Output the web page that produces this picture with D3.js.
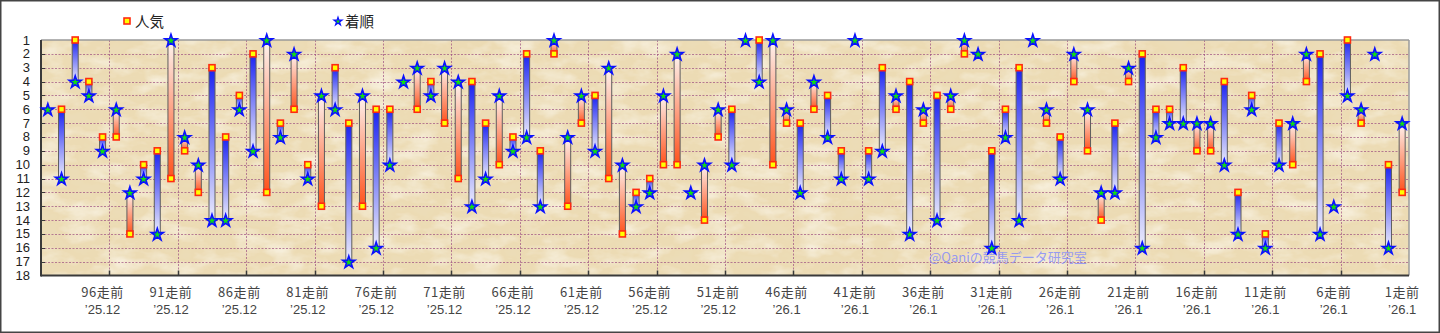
<!DOCTYPE html>
<html>
<head>
<meta charset="utf-8">
<script src="https://cdn.jsdelivr.net/npm/d3@7"></script>
<style>
  html, body { margin: 0; padding: 0; background: #fff; }
  svg { display: block; }
</style>
</head>
<body>
<svg id="chart" width="1440" height="333"></svg>
<script>
// Races ordered from 100走前 (oldest) to 1走前 (latest)
const racesBack = d3.range(100, 0, -1);

// 人気 (popularity rank) per race
const popularity = [
  6, 6, 1, 4, 8, 8, 15, 10, 9, 11,
  9, 12, 3, 8, 5, 2, 12, 7, 6, 10,
  13, 3, 7, 13, 6, 6, 4, 6, 4, 7,
  11, 4, 7, 10, 8, 2, 9, 2, 13, 7,
  5, 11, 15, 12, 11, 10, 10, 12, 14, 8,
  6, 1, 1, 10, 7, 7, 6, 5, 9, 1,
  9, 3, 6, 4, 7, 5, 6, 2, 2, 9,
  6, 3, 1, 7, 8, 4, 9, 14, 7, 4,
  2, 6, 6, 3, 9, 9, 4, 12, 5, 15,
  7, 10, 4, 2, 13, 1, 7, 2, 10, 12
];

// 着順 (finishing position) per race
const finish = [
  6, 11, 4, 5, 9, 6, 12, 11, 15, 1,
  8, 10, 14, 14, 6, 9, 1, 8, 2, 11,
  5, 6, 17, 5, 16, 10, 4, 3, 5, 3,
  4, 13, 11, 5, 9, 8, 13, 1, 8, 5,
  9, 3, 10, 13, 12, 5, 2, 12, 10, 6,
  10, 1, 4, 1, 6, 12, 4, 8, 11, 1,
  11, 9, 5, 15, 6, 14, 5, 1, 2, 16,
  8, 14, 1, 6, 11, 2, 6, 12, 12, 3,
  16, 8, 7, 7, 7, 7, 10, 15, 6, 16,
  10, 7, 2, 15, 13, 5, 6, 2, 16, 7
];

// Labelled races on the x axis and the month shown under each
const tickRaces = [96, 91, 86, 81, 76, 71, 66, 61, 56, 51, 46, 41, 36, 31, 26, 21, 16, 11, 6, 1];
const tickMonths = ["’25.12", "’25.12", "’25.12", "’25.12", "’25.12", "’25.12", "’25.12", "’25.12", "’25.12", "’25.12",
                    "’26.1", "’26.1", "’26.1", "’26.1", "’26.1", "’26.1", "’26.1", "’26.1", "’26.1", "’26.1"];

// Rank axis
const rankTicks = d3.range(1, 19);

const races = racesBack.map((n, i) => ({ n, pop: popularity[i], fin: finish[i] }));

const svg = d3.select("#chart");
const W = 1440, H = 333;
const plot = { left: 41, right: 1409, top: 40, bottom: 275.5 };

const x = d3.scaleBand().domain(racesBack).range([plot.left, plot.right]).padding(0);
const y = d3.scaleLinear().domain([1, 18]).range([plot.top, plot.bottom]);
const cx = n => x(n) + x.bandwidth() / 2;

const defs = svg.append("defs");

// Parchment texture for the plotting area
const paper = defs.append("filter").attr("id", "paper")
  .attr("x", 0).attr("y", 0).attr("width", 1).attr("height", 1);
paper.append("feTurbulence").attr("type", "fractalNoise")
  .attr("baseFrequency", "0.03 0.055").attr("numOctaves", 4).attr("seed", 11).attr("result", "noise");
paper.append("feColorMatrix").attr("in", "noise").attr("type", "matrix")
  .attr("values", "0 0 0 0 0.98  0 0 0 0 0.95  0 0 0 0 0.86  1.4 0 0 0 -0.62").attr("result", "light");
paper.append("feColorMatrix").attr("in", "noise").attr("type", "matrix")
  .attr("values", "0 0 0 0 0.84  0 0 0 0 0.73  0 0 0 0 0.52  -1.3 0 0 0 0.55").attr("result", "dark");
paper.append("feFlood").attr("flood-color", "#ecdbb4").attr("result", "base");
paper.append("feMerge").selectAll("feMergeNode")
  .data(["base", "dark", "light"]).join("feMergeNode").attr("in", d => d);

// Bar gradients: coloured at the 人気 end, pale at the 着順 end
const blue = defs.append("linearGradient").attr("id", "gBlue").attr("x1", 0).attr("y1", 0).attr("x2", 0).attr("y2", 1);
blue.append("stop").attr("offset", "0%").attr("stop-color", "#1a22f2");
blue.append("stop").attr("offset", "100%").attr("stop-color", "#ececfc");
const red = defs.append("linearGradient").attr("id", "gRed").attr("x1", 0).attr("y1", 0).attr("x2", 0).attr("y2", 1);
red.append("stop").attr("offset", "0%").attr("stop-color", "#fdf4f0");
red.append("stop").attr("offset", "100%").attr("stop-color", "#ff521c");

// Outer frame
svg.append("rect").attr("x", 0.75).attr("y", 0.75).attr("width", W - 1.5).attr("height", H - 1.5)
  .attr("fill", "#fff").attr("stroke", "#444").attr("stroke-width", 1.5);

// Plot background
svg.append("rect").attr("x", plot.left).attr("y", plot.top)
  .attr("width", plot.right - plot.left).attr("height", plot.bottom - plot.top)
  .attr("filter", "url(#paper)");

// Horizontal grid
svg.append("g").selectAll("line").data(rankTicks.filter(v => v > 1 && v < 18)).join("line")
  .attr("x1", plot.left).attr("x2", plot.right)
  .attr("y1", d => Math.round(y(d)) + 0.5).attr("y2", d => Math.round(y(d)) + 0.5)
  .attr("stroke", "#9c4f80").attr("stroke-opacity", 0.7).attr("stroke-dasharray", "2,1.5");

// Vertical grid every five races
const vBounds = racesBack.filter((n, i) => i > 0 && i % 5 === 0);
svg.append("g").selectAll("line").data(vBounds).join("line")
  .attr("x1", d => Math.round(x(d)) + 0.5).attr("x2", d => Math.round(x(d)) + 0.5)
  .attr("y1", plot.top).attr("y2", plot.bottom)
  .attr("stroke", "#9c4f80").attr("stroke-opacity", 0.7).attr("stroke-dasharray", "2,1.5");

// Plot frame: light top/right, dark axes left/bottom
svg.append("line").attr("x1", plot.left).attr("x2", plot.right).attr("y1", plot.top).attr("y2", plot.top)
  .attr("stroke", "#9a9a9a").attr("stroke-width", 1.5);
svg.append("line").attr("x1", plot.right).attr("x2", plot.right).attr("y1", plot.top).attr("y2", plot.bottom)
  .attr("stroke", "#9a9a9a").attr("stroke-width", 1.5);
svg.append("line").attr("x1", plot.left).attr("x2", plot.left).attr("y1", plot.top).attr("y2", plot.bottom + 1)
  .attr("stroke", "#3a3a3a").attr("stroke-width", 2);
svg.append("line").attr("x1", plot.left).attr("x2", plot.right).attr("y1", plot.bottom).attr("y2", plot.bottom)
  .attr("stroke", "#3a3a3a").attr("stroke-width", 2);

// Inner ticks
svg.append("g").selectAll("line").data(rankTicks.filter(v => v > 1 && v < 18)).join("line")
  .attr("x1", plot.left).attr("x2", plot.left + 4)
  .attr("y1", d => Math.round(y(d)) + 0.5).attr("y2", d => Math.round(y(d)) + 0.5)
  .attr("stroke", "#3a3a3a");
svg.append("g").selectAll("line").data(vBounds).join("line")
  .attr("x1", d => Math.round(x(d)) + 0.5).attr("x2", d => Math.round(x(d)) + 0.5)
  .attr("y1", plot.bottom - 5).attr("y2", plot.bottom)
  .attr("stroke", "#3a3a3a").attr("stroke-width", 1.5);

// Rank labels
svg.append("g").selectAll("text").data(rankTicks).join("text")
  .attr("x", 30).attr("y", d => y(d) + 4.5)
  .attr("text-anchor", "end")
  .attr("font-family", "Liberation Sans, Arial, sans-serif").attr("font-size", 13).attr("fill", "#222")
  .text(d => d);

// Race labels
const xl = svg.append("g").selectAll("g").data(tickRaces).join("g");
xl.append("text").attr("x", d => cx(d)).attr("y", 297)
  .attr("text-anchor", "middle")
  .attr("font-family", "Noto Sans CJK JP, sans-serif").attr("font-size", 13).attr("fill", "#444")
  .attr("letter-spacing", 0.6)
  .text(d => d + "走前");
xl.append("text").attr("x", d => cx(d)).attr("y", 314)
  .attr("text-anchor", "middle")
  .attr("font-family", "Liberation Sans, Arial, sans-serif").attr("font-size", 13).attr("fill", "#444")
  .text((d, i) => tickMonths[i]);

// Watermark
svg.append("text").attr("x", 929).attr("y", 262)
  .attr("font-family", "Noto Sans CJK JP, sans-serif").attr("font-size", 13)
  .attr("fill", "#7f88ff").attr("fill-opacity", 0.8)
  .text("@Qaniの競馬データ研究室");

// Bars between 人気 and 着順
const barW = 6;
svg.append("g").selectAll("rect").data(races.filter(d => d.pop !== d.fin)).join("rect")
  .attr("x", d => cx(d.n) - barW / 2)
  .attr("y", d => y(Math.min(d.pop, d.fin)))
  .attr("width", barW)
  .attr("height", d => y(Math.max(d.pop, d.fin)) - y(Math.min(d.pop, d.fin)))
  .attr("fill", d => d.pop < d.fin ? "url(#gBlue)" : "url(#gRed)")
  .attr("stroke", "#5e5e5e").attr("stroke-width", 1);

// Star shapes
const star = d3.symbol().type(d3.symbolStar).size(46);
const starSmall = d3.symbol().type(d3.symbolStar).size(20);

// 人気 markers (a square sharing its spot with the star is covered by it)
svg.append("g").selectAll("rect").data(races.filter(d => d.pop !== d.fin)).join("rect")
  .attr("x", d => cx(d.n) - 3).attr("y", d => y(d.pop) - 3)
  .attr("width", 6).attr("height", 6)
  .attr("fill", "#ffff00").attr("stroke", "#ff2a10").attr("stroke-width", 1.6);

// 着順 markers
svg.append("g").selectAll("path").data(races).join("path")
  .attr("transform", d => `translate(${cx(d.n)},${y(d.fin) + 0.7})`)
  .attr("d", star)
  .attr("fill", "#10e010").attr("stroke", "#0a10ff").attr("stroke-width", 1.6).attr("stroke-linejoin", "miter");

// Legend
svg.append("rect").attr("x", 124).attr("y", 18).attr("width", 6).attr("height", 6)
  .attr("fill", "#ffff00").attr("stroke", "#ff2a10").attr("stroke-width", 1.6);
svg.append("text").attr("x", 135).attr("y", 27)
  .attr("font-family", "Noto Sans CJK JP, sans-serif").attr("font-size", 14.5).attr("fill", "#222")
  .text("人気");
svg.append("path").attr("transform", "translate(338,21.5)").attr("d", starSmall)
  .attr("fill", "#10e010").attr("stroke", "#0a10ff").attr("stroke-width", 1.2);
svg.append("text").attr("x", 345).attr("y", 27)
  .attr("font-family", "Noto Sans CJK JP, sans-serif").attr("font-size", 14.5).attr("fill", "#222")
  .text("着順");
</script>
</body>
</html>
